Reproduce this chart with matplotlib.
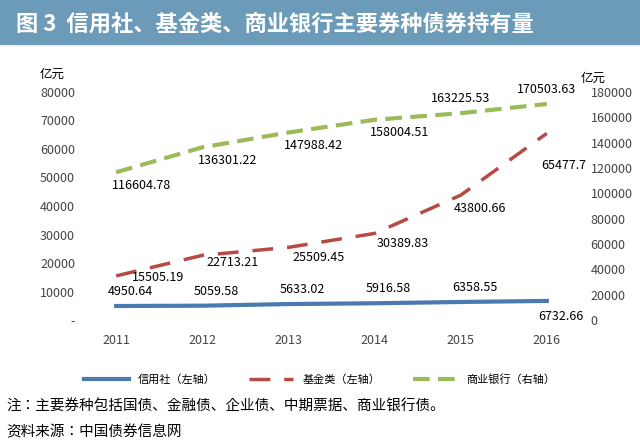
import matplotlib
matplotlib.use("Agg")
import matplotlib.pyplot as plt
from matplotlib.patches import Rectangle
from matplotlib import font_manager as fm

names = []
for f in sorted(fm.findSystemFonts()):
    if "cjk" in f.lower():
        try:
            fm.fontManager.addfont(f)
            names.append(fm.FontProperties(fname=f).get_name())
        except Exception:
            pass
fam = "Noto Sans CJK SC"
for pref in ("Sans CJK SC", "Sans CJK", "CJK"):
    c = [n for n in names if pref in n]
    if c:
        fam = sorted(c)[0]
        break
plt.rcParams["font.family"] = [fam, "DejaVu Sans"]

years = ["2011", "2012", "2013", "2014", "2015", "2016"]
xinyongshe = [4950.64, 5059.58, 5633.02, 5916.58, 6358.55, 6732.66]
jijin = [15505.19, 22713.21, 25509.45, 30389.83, 43800.66, 65477.7]
shangye = [116604.78, 136301.22, 147988.42, 158004.51, 163225.53, 170503.63]
left_ticks = [0, 10000, 20000, 30000, 40000, 50000, 60000, 70000, 80000]
right_ticks = [0, 20000, 40000, 60000, 80000, 100000, 120000, 140000, 160000, 180000]

fig = plt.figure(figsize=(6.4, 4.44), dpi=100)
fig.patches.append(Rectangle((0, 0.9), 1, 0.1, transform=fig.transFigure, color="#6b9bb8", zorder=0))
fig.text(0.025, 0.945, "图 3  信用社、基金类、商业银行主要券种债券持有量", color="white", fontsize=16, va="center", weight="bold")

ax = fig.add_axes([0.125, 0.279, 0.79, 0.514])
ax2 = ax.twinx()
x = list(range(len(years)))
ax.plot(x, xinyongshe, color="#4a7ab0", lw=3, label="信用社（左轴）")
ax.plot(x, jijin, color="#b84a46", lw=2.5, dashes=(6, 4), label="基金类（左轴）")
ax2.plot(x, shangye, color="#9bbb59", lw=3, dashes=(4, 2), label="商业银行（右轴）")

ax.set_ylim(0, 80000)
ax2.set_ylim(0, 180000)
ax.set_xlim(-0.42, 5.45)
ax.set_yticks(left_ticks)
ax.set_yticklabels(["-"] + [str(v) for v in left_ticks[1:]], fontsize=9, color="#444444")
ax2.set_yticks(right_ticks)
ax2.set_yticklabels([str(v) for v in right_ticks], fontsize=9, color="#444444")
ax.set_xticks(x)
ax.set_xticklabels(years, fontsize=9, color="#444444")
ax.tick_params(axis="x", pad=10)
for a in (ax, ax2):
    for s in a.spines.values():
        s.set_visible(False)
    a.tick_params(length=0)
ax.text(-0.08, 1.06, "亿元", transform=ax.transAxes, fontsize=9)
ax2.text(0.99, 1.045, "亿元", transform=ax.transAxes, fontsize=9)

fmt = lambda v: "65477.7" if v == 65477.7 else f"{v:.2f}"
for i, v in enumerate(xinyongshe):
    off = (10, -14) if i == 5 else (10, 8)
    ax.annotate(fmt(v), (i, v), xytext=off, textcoords="offset points", fontsize=9, ha="center")
for i, v in enumerate(jijin):
    off = [(30, -4), (22, -8), (22, -10), (20, -10), (14, -12), (12, -26)][i]
    ax.annotate(fmt(v), (i, v), xytext=off, textcoords="offset points", fontsize=9, ha="center")
for i, v in enumerate(shangye):
    off = (18, -12) if i < 4 else (0, 8)
    ax2.annotate(fmt(v), (i, v), xytext=off, textcoords="offset points", fontsize=9, ha="center")

h1, l1 = ax.get_legend_handles_labels()
h2, l2 = ax2.get_legend_handles_labels()
fig.legend(h1 + h2, l1 + l2, loc="center", bbox_to_anchor=(0.5, 0.145), ncol=3, frameon=False, fontsize=8, handlelength=4, columnspacing=3)

fig.text(0.01, 0.075, "注：主要券种包括国债、金融债、企业债、中期票据、商业银行债。", fontsize=10.5)
fig.text(0.01, 0.018, "资料来源：中国债券信息网", fontsize=10.5)
fig.savefig("out.png", dpi=100)
